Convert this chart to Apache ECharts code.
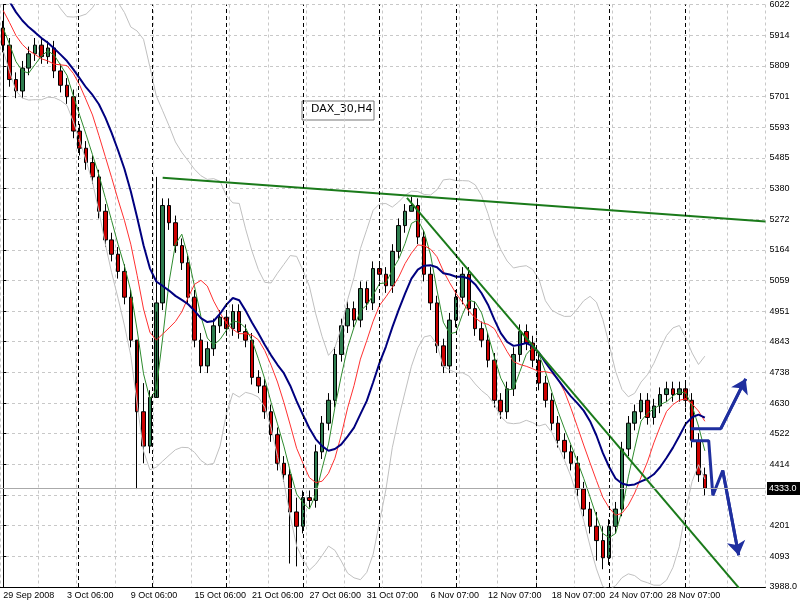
<!DOCTYPE html>
<html><head><meta charset="utf-8">
<script src="https://cdn.jsdelivr.net/npm/echarts@6/dist/echarts.min.js"></script>
<style>html,body{margin:0;background:#fff}#ct1{width:800px;height:605px}</style>
</head><body><div id="ct1"></div>
<script>
// closes of each H4 candle
var closes = [5880,5760,5720,5800,5850,5880,5840,5870,5790,5740,5700,5580,5520,5470,5420,5300,5200,5150,5090,5000,
  4850,4600,4480,4650,4980,5320,5260,5180,5120,5000,4850,4760,4820,4900,4930,4890,4950,4880,4850,4720,
  4690,4600,4520,4420,4380,4250,4200,4300,4290,4460,4560,4640,4800,4900,4960,4920,5030,4980,5100,5080,
  5040,5160,5250,5300,5320,5210,5080,4980,4830,4760,4920,5000,5080,4960,4890,4850,4780,4640,4600,4680,
  4800,4880,4840,4780,4700,4640,4560,4500,4460,4420,4330,4260,4200,4150,4090,4200,4260,4470,4560,4600,
  4640,4580,4620,4660,4680,4660,4680,4640,4500,4380,4333];
// closes before the visible window, only feed the averages
var priorCloses = [6250,6220,6200,6180,6150,6120,6100,6080,6050,6020,5990,5960,5930];
var firstOpen = 5940;
// wick spikes that stick out from the bodies
var spikes = {21:[4330,4700],22:[4420,4700],24:[4950,5420],46:[4060,4300],45:[4070,4400],64:[5300,5350],94:[4050,4200],93:[4080,4250]};
var dateLabels = ['29 Sep 2008','3 Oct 06:00','9 Oct 06:00','15 Oct 06:00','21 Oct 06:00','27 Oct 06:00','31 Oct 07:00','6 Nov 07:00','12 Nov 07:00','18 Nov 07:00','24 Nov 07:00','28 Nov 07:00'];
var dateIdx = [0,10,20,30,39,48,57,67,76,86,95,104];
var weekLines = [11.7,23.4,35,47,59,71,83.5,95,107];
var priceTicks = ['3988.0','4093','4201','','4414','4522','4630','4738','4843','4951','5059','5164','5272','5380','5485','5593','5701','5809','5914','6022'];
var topLine = [[25,5417],[119.5,5264]];
var downLine = [[63.3,5347],[115.6,3978]];
var arrowUp = [[107.8,4541],[112.5,4541],[116.4,4715]];
var arrowDown = [[107.8,4499],[110.6,4499],[111.25,4308],[112.8,4395],[115.3,4099]];
var lastPrice = 4333;

var N = 120, cats = [], ohlc = [];
for (var i = 0; i < N; i++) cats.push(i);
for (var i = 0; i < closes.length; i++) {
    var o = i ? closes[i-1] : firstOpen, c = closes[i];
    var lo = Math.min(o,c) - 25, hi = Math.max(o,c) + 25;
    if (spikes[i]) { lo = spikes[i][0]; hi = spikes[i][1]; }
    ohlc.push([o, c, lo, hi]);
}
var all = priorCloses.concat(closes), H = priorCloses.length;
function sma(p) {
    var r = [];
    for (var i = H; i < all.length; i++) {
        var s = 0; for (var j = i-p+1; j <= i; j++) s += all[j];
        r.push([i-H, s/p]);
    }
    return r;
}
function band(p, k) {
    var m = sma(p), r = [];
    for (var i = H; i < all.length; i++) {
        var mu = m[i-H][1], v = 0;
        for (var j = i-p+1; j <= i; j++) v += Math.pow(all[j]-mu, 2);
        r.push([i-H, mu + k*Math.sqrt(v/p)]);
    }
    return r;
}
function ln(data, color, w) {
    return {type:'line', xAxisIndex:1, data:data, symbol:'none', silent:true,
        lineStyle:{color:color, width:w}};
}
function arrow(pts) {
    var n = pts.length;
    return {coords: [pts[n-2], pts[n-1]]};
}

var option1 = {
    animation: false,
    grid: {left: 0, right: 34, top: 3, bottom: 18},
    xAxis: [{
        type: 'category', data: cats, boundaryGap: true,
        axisLine: {lineStyle: {color: '#000'}}, axisTick: {show: false},
        axisLabel: {interval: 0, fontSize: 9, color: '#000', fontFamily: 'Liberation Sans Narrow, Liberation Sans', align: 'left', margin: 4,
            formatter: function (v, i) { var k = dateIdx.indexOf(i); return k < 0 ? '' : dateLabels[k]; }},
        splitLine: {show: false}
    }, {
        type: 'value', min: -0.5, max: 119.5, interval: 6, show: true,
        axisLine: {show: false}, axisTick: {show: false}, axisLabel: {show: false},
        splitLine: {show: true, lineStyle: {color: '#c8c8c8', type: [3,3]}}
    }],
    yAxis: {
        type: 'value', position: 'right', min: 3988, max: 6022, interval: (6022-3988)/19,
        axisLine: {show: true, lineStyle: {color: '#000'}}, axisTick: {show: true, length: 3},
        axisLabel: {fontSize: 9, color: '#000', fontFamily: 'Liberation Sans Narrow, Liberation Sans', margin: 4,
            formatter: function (v) { return priceTicks[Math.round((v-3988)/((6022-3988)/19))]; }},
        splitLine: {lineStyle: {color: '#c8c8c8', type: [3,3]}}
    },
    series: [
        ln(band(13, 2), '#c0c0c0', 1),
        ln(band(13, -2), '#c0c0c0', 1),
        {type:'candlestick', data: ohlc, barWidth: 4, silent: true,
            itemStyle:{color:'#2e7d4f', color0:'#cc0000', borderColor:'#000', borderColor0:'#000', borderWidth:1}},
        ln(sma(4), '#2e8b2e', 1),
        ln(sma(8), '#ff3030', 1),
        ln(sma(13), '#00007f', 2),
        {type:'line', xAxisIndex:1, data: [], silent:true,
            markLine:{symbol:'none', silent:true, label:{show:false},
                lineStyle:{color:'#000', type:[4,3], width:1},
                data: weekLines.map(function(x){return {xAxis:x};})
                  .concat([{yAxis:lastPrice, lineStyle:{color:'#aaa', type:'solid'}}])}},
        ln(topLine, '#1a7a1a', 2),
        ln(downLine, '#1a7a1a', 2),
        ln(arrowUp, '#1f2f9f', 3),
        ln(arrowDown, '#1f2f9f', 3),
        {type:'lines', coordinateSystem:'cartesian2d', xAxisIndex:1, silent:true,
            symbol:['none','arrow'], symbolSize:14,
            lineStyle:{color:'#1f2f9f', width:3, opacity:1},
            data:[arrow(arrowUp), arrow(arrowDown)]}
    ],
    graphic: [
        {type:'rect', shape:{x:302,y:101,width:72,height:19}, style:{fill:'#fff', stroke:'#777', lineWidth:1}},
        {type:'text', x:311, y:104, style:{text:'DAX_30,H4', font:'11px DejaVu Sans', fill:'#000'}},
        {type:'rect', shape:{x:767,y:482,width:33,height:13}, style:{fill:'#000'}},
        {type:'text', x:769, y:484, style:{text:'4333.0', font:'9px Liberation Sans', fill:'#fff'}}
    ]
};
var myChart1 = echarts.init(document.getElementById('ct1'));
myChart1.setOption(option1, true);
</script></body></html>
